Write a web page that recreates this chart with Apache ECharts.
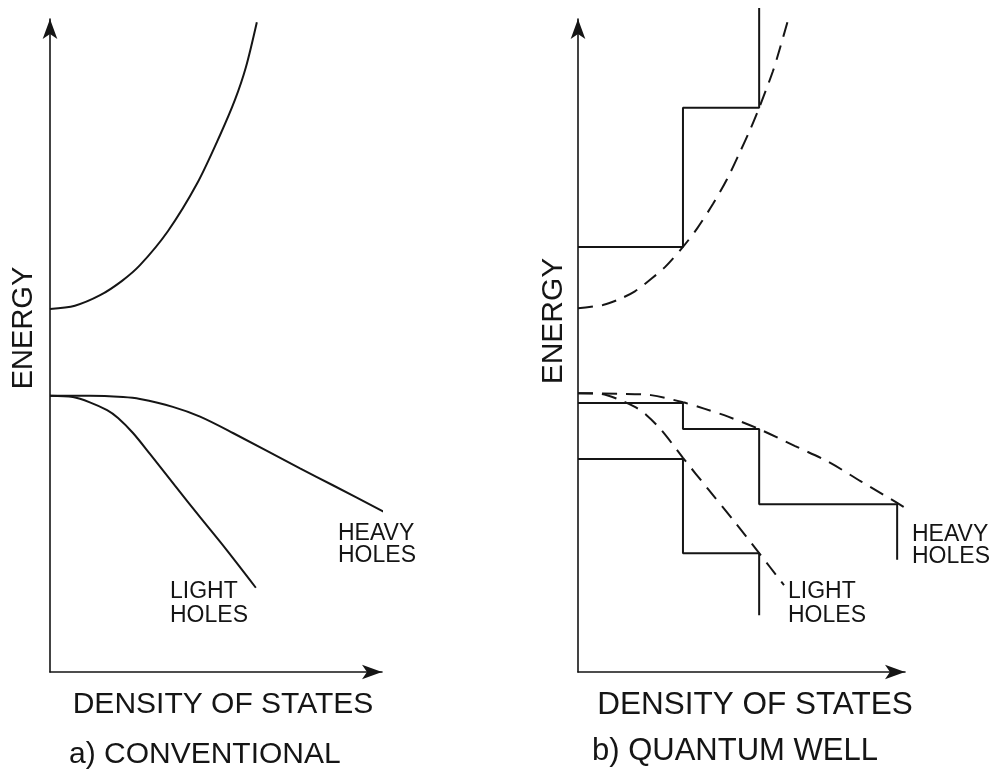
<!DOCTYPE html>
<html>
<head>
<meta charset="utf-8">
<script src="https://cdn.jsdelivr.net/npm/echarts@6/dist/echarts.min.js"></script>
<style>
  html, body { margin: 0; padding: 0; background: #fff; }
  #chart { width: 995px; height: 781px; }
</style>
</head>
<body>
<div id="chart"></div>
<script>
// Density of states vs. energy, arbitrary units (DOS 0-100, energy 0-100).

// a) Conventional bulk semiconductor
const bulkConduction = [[0, 55.6], [7.5, 56.1], [15.1, 57.7], [21.7, 59.9], [27.1, 62.3], [35.5, 67.5],
  [44.3, 74.8], [51.2, 82.2], [55.7, 87.6], [59.0, 92.6], [62.3, 99.5]];
const bulkHeavyHoles = [[0, 42.3], [12.0, 42.3], [22.0, 42.1], [27.1, 41.8], [37.0, 40.6], [45.2, 39.1],
  [55.1, 36.6], [75.3, 31.2], [85.2, 28.6], [101.5, 24.3]];
const bulkLightHoles = [[0, 42.3], [6.9, 42.1], [12.0, 41.3], [17.2, 40.1], [20.5, 38.9], [25.0, 36.6],
  [30.1, 33.4], [37.7, 28.5], [45.2, 23.7], [52.7, 19.0], [62.0, 12.9]];

// b) Quantum well: bulk-like envelopes (dashed)
const qwConductionEnvelope = [[0, 55.7], [7.6, 56.2], [12.2, 57.0], [17.4, 58.3], [22.6, 60.3], [26.6, 62.0],
  [32.1, 65.1], [36.4, 67.9], [41.3, 71.7], [45.6, 75.5], [49.5, 79.6], [52.6, 83.0], [55.4, 86.4],
  [59.6, 92.0], [61.8, 95.6], [64.2, 99.8]];
const qwHeavyEnvelope = [[0, 42.7], [12.2, 42.6], [22.3, 42.4], [32.1, 41.3], [38.8, 40.3], [45.9, 39.1],
  [55.4, 37.2], [66.4, 34.6], [76.5, 32.2], [86.5, 29.2], [97.6, 25.9], [102.1, 24.5]];
const qwLightEnvelope = [[0, 42.7], [7.0, 42.6], [12.2, 41.8], [17.4, 40.6], [20.8, 39.4], [25.4, 37.1],
  [32.1, 32.8], [39.8, 28.0], [47.4, 23.3], [55.4, 18.2], [63.0, 13.3]];

// b) Quantum well: subband energies and step heights of the 2D density of states
const qwConductionLevels = [65.1, 86.4];
const qwConductionSteps = [32.1, 55.4];
const qwConductionEnd = 101.7;
const qwHeavyLevels = [41.2, 37.2, 25.7];
const qwHeavySteps = [32.1, 55.4, 97.6];
const qwHeavyEnd = 17.2;
const qwLightLevels = [32.6, 18.2];
const qwLightSteps = [32.1, 55.4];
const qwLightEnd = 8.7;

// Turn subband levels into a staircase polyline
function staircase(levels, steps, end) {
  const pts = [[0, levels[0]]];
  for (let i = 0; i < levels.length; i++) {
    pts.push([steps[i], levels[i]]);
    pts.push([steps[i], i + 1 < levels.length ? levels[i + 1] : end]);
  }
  return pts;
}

const INK = '#151515';
const FONT = '"Liberation Sans", Arial, Helvetica, sans-serif';

function axisPair(gridIndex) {
  const line = {
    show: true,
    symbol: ['none', 'arrow'],
    symbolSize: [11, 20],
    lineStyle: { color: INK, width: 1.6 }
  };
  const common = {
    type: 'value', min: 0, max: 100, gridIndex,
    axisLine: line, axisTick: { show: false }, axisLabel: { show: false }, splitLine: { show: false }
  };
  return [Object.assign({}, common), Object.assign({}, common)];
}

const [x0, y0] = axisPair(0);
const [x1, y1] = axisPair(1);

function solid(data, idx, smooth) {
  return {
    type: 'line', data, xAxisIndex: idx, yAxisIndex: idx,
    showSymbol: false, symbol: 'none', clip: false,
    smooth: smooth ? 0.3 : false,
    lineStyle: { color: INK, width: 2 }
  };
}
function dashed(data, idx) {
  return {
    type: 'line', data, xAxisIndex: idx, yAxisIndex: idx,
    showSymbol: false, symbol: 'none', clip: false,
    smooth: 0.3,
    lineStyle: { color: INK, width: 2, type: [15, 9] }
  };
}

function label(text, x, y, size, opts) {
  return Object.assign({
    type: 'text', x, y,
    style: Object.assign({
      text, fill: INK, font: size + 'px ' + FONT,
      textAlign: 'left', textVerticalAlign: 'middle'
    }, (opts && opts.style) || {})
  }, (opts && opts.el) || {});
}

const chart = echarts.init(document.getElementById('chart'), null, { renderer: 'canvas' });
chart.setOption({
  animation: false,
  backgroundColor: '#ffffff',
  grid: [
    { left: 50, top: 19, width: 332, height: 653 },
    { left: 578, top: 19, width: 327, height: 653 }
  ],
  xAxis: [x0, x1],
  yAxis: [y0, y1],
  series: [
    solid(bulkConduction, 0, true),
    solid(bulkHeavyHoles, 0, true),
    solid(bulkLightHoles, 0, true),
    dashed(qwConductionEnvelope, 1),
    dashed(qwHeavyEnvelope, 1),
    dashed(qwLightEnvelope, 1),
    solid(staircase(qwConductionLevels, qwConductionSteps, qwConductionEnd), 1, false),
    solid(staircase(qwHeavyLevels, qwHeavySteps, qwHeavyEnd), 1, false),
    solid(staircase(qwLightLevels, qwLightSteps, qwLightEnd), 1, false)
  ],
  graphic: [
    label('ENERGY', 24, 328, 29, { style: { textAlign: 'center' }, el: { rotation: Math.PI / 2 } }),
    label('ENERGY', 554, 321, 30, { style: { textAlign: 'center' }, el: { rotation: Math.PI / 2 } }),
    label('DENSITY OF STATES', 223, 705, 30, { style: { textAlign: 'center' } }),
    label('DENSITY OF STATES', 755, 705, 31.5, { style: { textAlign: 'center' } }),
    label('a) CONVENTIONAL', 69, 755, 30),
    label('b) QUANTUM WELL', 592, 751, 31),
    label('LIGHT\nHOLES', 170, 580, 23, { style: { textVerticalAlign: 'top', lineHeight: 24 } }),
    label('HEAVY\nHOLES', 338, 523, 23, { style: { textVerticalAlign: 'top', lineHeight: 22 } }),
    label('LIGHT\nHOLES', 788, 580, 23, { style: { textVerticalAlign: 'top', lineHeight: 24 } }),
    label('HEAVY\nHOLES', 912, 524, 23, { style: { textVerticalAlign: 'top', lineHeight: 21.5 } })
  ]
});
</script>
</body>
</html>
